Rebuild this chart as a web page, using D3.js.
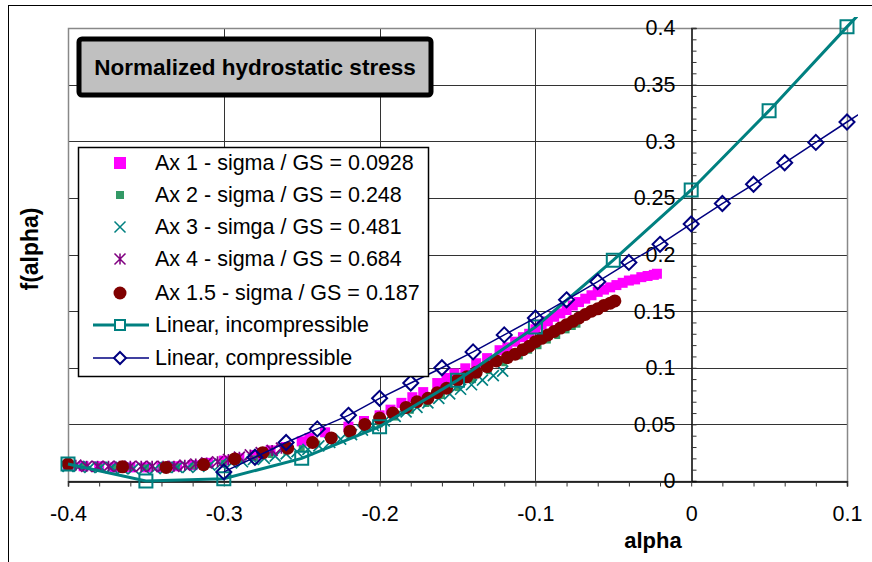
<!DOCTYPE html>
<html>
<head>
<meta charset="utf-8">
<script src="https://cdn.jsdelivr.net/npm/d3@7"></script>
<style>
  body { margin: 0; background: #fff; }
  text { font-family: "Liberation Sans", Arial, sans-serif; }
</style>
</head>
<body>
<div id="chart-area"></div>
<script>
// Ax 1 - sigma / GS = 0.0928 (magenta squares)
var ax1Alpha = [-0.4, -0.39, -0.38, -0.37, -0.36, -0.35, -0.34, -0.33, -0.32, -0.31, -0.3, -0.29, -0.28, -0.27, -0.26, -0.25, -0.245, -0.235, -0.22, -0.21, -0.2, -0.193, -0.186, -0.179, -0.172, -0.163, -0.157, -0.152, -0.145, -0.138, -0.131, -0.123, -0.118, -0.113, -0.108, -0.104, -0.1, -0.096, -0.092, -0.088, -0.084, -0.08, -0.076, -0.072, -0.068, -0.064, -0.06, -0.056, -0.052, -0.048, -0.044, -0.04, -0.036, -0.032, -0.028, -0.024, -0.022];
var ax1F = [0.014, 0.013, 0.013, 0.012, 0.012, 0.012, 0.012, 0.013, 0.014, 0.016, 0.018, 0.02, 0.023, 0.027, 0.03, 0.035, 0.038, 0.043, 0.048, 0.053, 0.058, 0.063, 0.069, 0.074, 0.0785, 0.0865, 0.091, 0.095, 0.0995, 0.104, 0.1085, 0.1155, 0.118, 0.123, 0.127, 0.13, 0.134, 0.138, 0.141, 0.145, 0.148, 0.151, 0.155, 0.158, 0.161, 0.164, 0.167, 0.169, 0.171, 0.173, 0.175, 0.177, 0.178, 0.18, 0.181, 0.182, 0.183];

// Ax 2 - sigma / GS = 0.248 (small green squares)
var ax2Alpha = [-0.4, -0.39, -0.38, -0.37, -0.36, -0.35, -0.34, -0.33, -0.32, -0.31, -0.3, -0.29, -0.28, -0.27, -0.26, -0.25, -0.24, -0.23, -0.22, -0.21, -0.2, -0.19, -0.18, -0.17, -0.16, -0.15, -0.14, -0.13, -0.12, -0.11, -0.104, -0.098, -0.092, -0.086, -0.08, -0.076, -0.073];
var ax2F = [0.014, 0.013, 0.013, 0.012, 0.012, 0.012, 0.012, 0.013, 0.013, 0.014, 0.016, 0.018, 0.02, 0.023, 0.026, 0.029, 0.033, 0.037, 0.041, 0.046, 0.05, 0.056, 0.062, 0.068, 0.075, 0.082, 0.089, 0.097, 0.104, 0.11, 0.115, 0.119, 0.124, 0.128, 0.133, 0.136, 0.138];

// Ax 3 - simga / GS = 0.481 (teal crosses)
var ax3Alpha = [-0.4, -0.393, -0.386, -0.379, -0.372, -0.365, -0.358, -0.351, -0.344, -0.337, -0.33, -0.323, -0.316, -0.309, -0.302, -0.295, -0.288, -0.281, -0.274, -0.267, -0.26, -0.253, -0.246, -0.239, -0.232, -0.225, -0.218, -0.211, -0.204, -0.197, -0.19, -0.183, -0.176, -0.169, -0.162, -0.155, -0.148, -0.141, -0.134, -0.127, -0.121];
var ax3F = [0.013, 0.013, 0.012, 0.012, 0.012, 0.011, 0.011, 0.011, 0.011, 0.012, 0.012, 0.012, 0.013, 0.014, 0.015, 0.016, 0.017, 0.019, 0.02, 0.022, 0.024, 0.026, 0.028, 0.031, 0.034, 0.037, 0.041, 0.045, 0.049, 0.053, 0.057, 0.061, 0.065, 0.069, 0.073, 0.077, 0.081, 0.085, 0.089, 0.093, 0.097];

// Ax 4 - sigma / GS = 0.684 (purple stars)
var ax4Alpha = [-0.395, -0.388, -0.381, -0.374, -0.367, -0.36, -0.353, -0.346, -0.339, -0.332, -0.325, -0.318, -0.311, -0.304, -0.297, -0.29, -0.283, -0.276, -0.269, -0.263];
var ax4F = [0.014, 0.013, 0.013, 0.013, 0.013, 0.013, 0.013, 0.013, 0.013, 0.013, 0.014, 0.015, 0.016, 0.017, 0.019, 0.021, 0.023, 0.025, 0.027, 0.029];

// Ax 1.5 - sigma / GS = 0.187 (dark red dots)
var ax15Alpha = [-0.4, -0.365, -0.337, -0.313, -0.293, -0.275, -0.259, -0.243, -0.231, -0.219, -0.2095, -0.2, -0.1915, -0.183, -0.176, -0.169, -0.163, -0.157, -0.15, -0.144, -0.138, -0.131, -0.125, -0.118, -0.113, -0.108, -0.104, -0.1, -0.096, -0.092, -0.088, -0.084, -0.08, -0.076, -0.072, -0.068, -0.064, -0.06, -0.056, -0.052, -0.049];
var ax15F = [0.015, 0.0125, 0.012, 0.0145, 0.0195, 0.025, 0.029, 0.034, 0.038, 0.044, 0.05, 0.0556, 0.06, 0.065, 0.07, 0.073, 0.078, 0.082, 0.089, 0.092, 0.096, 0.101, 0.106, 0.109, 0.112, 0.116, 0.119, 0.123, 0.126, 0.129, 0.132, 0.135, 0.138, 0.141, 0.144, 0.147, 0.15, 0.152, 0.155, 0.157, 0.159];

// Linear, incompressible
var incAlpha = [-0.4, -0.35, -0.3, -0.25, -0.2, -0.15, -0.1, -0.05, 0, 0.05, 0.1, 0.15];
var incF = [0.015, 0.0, 0.002, 0.02, 0.048, 0.089, 0.136, 0.195, 0.257, 0.327, 0.401, 0.474];

// Linear, compressible
var compAlpha = [-0.3, -0.28, -0.26, -0.24, -0.22, -0.2, -0.18, -0.16, -0.14, -0.12, -0.1, -0.08, -0.06, -0.04, -0.02, 0, 0.02, 0.04, 0.06, 0.08, 0.1, 0.12];
var compF = [0.008, 0.021, 0.034, 0.046, 0.058, 0.073, 0.0865, 0.1, 0.114, 0.129, 0.144, 0.16, 0.176, 0.193, 0.209, 0.227, 0.245, 0.262, 0.281, 0.299, 0.317, 0.335];

var xMajor = [-0.4, -0.3, -0.2, -0.1, 0, 0.1];
var yMajor = [0, 0.05, 0.1, 0.15, 0.2, 0.25, 0.3, 0.35, 0.4];
var xMinor = d3.range(-0.4, 0.1001, 0.02);
var yMinor = d3.range(0, 0.4001, 0.01);

var legendLabels = [
  "Ax 1 - sigma / GS = 0.0928",
  "Ax 2 - sigma / GS = 0.248",
  "Ax 3 - simga / GS = 0.481",
  "Ax 4 - sigma / GS = 0.684",
  "Ax 1.5 - sigma / GS = 0.187",
  "Linear, incompressible",
  "Linear, compressible"
];

var W = 872, H = 562;
var plotLeft = 68, plotRight = 847, plotTop = 28, plotBottom = 481;

var svg = d3.select("#chart-area")
  .append("svg")
  .attr("width", W)
  .attr("height", H);

// outer chart border
svg.append("rect")
  .attr("x", 8.5).attr("y", 5.5)
  .attr("width", W).attr("height", H)
  .attr("fill", "#fff")
  .attr("stroke", "#000");

var x = d3.scaleLinear().domain([-0.4, 0.1]).range([plotLeft, plotRight]);
var y = d3.scaleLinear().domain([0, 0.4]).range([plotBottom, plotTop]);

// gridlines
svg.append("g").selectAll("line")
  .data(yMajor.filter(d => d > 0 && d < 0.4))
  .enter().append("line")
  .attr("x1", plotLeft).attr("x2", plotRight)
  .attr("y1", d => Math.round(y(d)) + 0.5).attr("y2", d => Math.round(y(d)) + 0.5)
  .attr("stroke", "#333");
svg.append("g").selectAll("line")
  .data(xMajor.filter(d => d > -0.4 && d < 0.1 && d !== 0))
  .enter().append("line")
  .attr("y1", plotTop).attr("y2", plotBottom)
  .attr("x1", d => Math.round(x(d)) + 0.5).attr("x2", d => Math.round(x(d)) + 0.5)
  .attr("stroke", "#333");

// plot border
svg.append("rect")
  .attr("x", plotLeft + 0.5).attr("y", plotTop + 0.5)
  .attr("width", plotRight - plotLeft).attr("height", plotBottom - plotTop)
  .attr("fill", "none")
  .attr("stroke", "#888")
  .attr("stroke-width", 1.5);

var fmt = d => (+d.toFixed(2)) + "";

// axes through zero
var x0 = Math.round(x(0)) + 0.5;
var y0 = Math.round(y(0)) + 0.5;

var yMinorAxis = svg.append("g")
  .attr("transform", "translate(" + x0 + ",0)")
  .call(d3.axisRight(y).tickValues(yMinor).tickSize(5).tickFormat(""));
yMinorAxis.select(".domain").attr("stroke", "#000").attr("stroke-width", 1.5);
yMinorAxis.selectAll(".tick line").attr("stroke", "#333");

var yLabelAxis = svg.append("g")
  .attr("transform", "translate(" + x0 + ",0)")
  .call(d3.axisLeft(y).tickValues(yMajor).tickSize(0).tickPadding(16).tickFormat(fmt));
yLabelAxis.select(".domain").remove();
yLabelAxis.selectAll("text")
  .attr("font-size", 21.5)
  .attr("font-family", "Liberation Sans, Arial, sans-serif")
  .attr("fill", "#000");

var xMinorAxis = svg.append("g")
  .attr("transform", "translate(0," + y0 + ")")
  .call(d3.axisBottom(x).tickValues(xMinor).tickSize(5).tickFormat(""));
xMinorAxis.select(".domain").attr("stroke", "#000").attr("stroke-width", 1.5);
xMinorAxis.selectAll(".tick line").attr("stroke", "#333");

var xLabelAxis = svg.append("g")
  .attr("transform", "translate(0," + y0 + ")")
  .call(d3.axisBottom(x).tickValues(xMajor).tickSize(0).tickPadding(24).tickFormat(fmt));
xLabelAxis.select(".domain").remove();
xLabelAxis.selectAll("text")
  .attr("font-size", 21.5)
  .attr("font-family", "Liberation Sans, Arial, sans-serif")
  .attr("fill", "#000");

// axis titles
svg.append("text")
  .attr("x", 653).attr("y", 548)
  .attr("text-anchor", "middle")
  .attr("font-weight", "bold")
  .attr("font-size", 22)
  .text("alpha");

svg.append("text")
  .attr("transform", "translate(30,249) rotate(-90)")
  .attr("text-anchor", "middle")
  .attr("dominant-baseline", "central")
  .attr("font-weight", "bold")
  .attr("font-size", 23)
  .text("f(alpha)");

// marker shapes
var shapes = {
  square: s => "M" + (-s) + "," + (-s) + "h" + 2 * s + "v" + 2 * s + "h" + (-2 * s) + "Z",
  cross: s => "M" + (-s) + "," + (-s) + "L" + s + "," + s + "M" + (-s) + "," + s + "L" + s + "," + (-s),
  star: s => "M" + (-s) + "," + (-s) + "L" + s + "," + s + "M" + (-s) + "," + s + "L" + s + "," + (-s) + "M0," + (-s) + "V" + s,
  diamond: s => "M0," + (-s) + "L" + s + ",0L0," + s + "L" + (-s) + ",0Z"
};

var series = [
  { alpha: ax1Alpha, f: ax1F, shape: "square", size: 5, fill: "#ff00ff", stroke: "none", sw: 0 },
  { alpha: ax2Alpha, f: ax2F, shape: "square", size: 3, fill: "#339966", stroke: "none", sw: 0 },
  { alpha: ax3Alpha, f: ax3F, shape: "cross", size: 5.5, fill: "none", stroke: "#008080", sw: 1.7 },
  { alpha: ax4Alpha, f: ax4F, shape: "star", size: 5.5, fill: "none", stroke: "#800080", sw: 1.7 },
  { alpha: ax15Alpha, f: ax15F, shape: "circle", size: 6.5, fill: "#800000", stroke: "none", sw: 0 }
];

series.forEach(function(s) {
  var pts = s.alpha.map((a, i) => ({ a: a, f: s.f[i] }));
  var g = svg.append("g");
  if (s.shape === "circle") {
    g.selectAll("circle").data(pts).enter().append("circle")
      .attr("cx", d => x(d.a)).attr("cy", d => y(d.f))
      .attr("r", s.size).attr("fill", s.fill);
  } else {
    g.selectAll("path").data(pts).enter().append("path")
      .attr("transform", d => "translate(" + x(d.a) + "," + y(d.f) + ")")
      .attr("d", shapes[s.shape](s.size))
      .attr("fill", s.fill).attr("stroke", s.stroke).attr("stroke-width", s.sw);
  }
});

// lines, clipped a little beyond the plot area
svg.append("clipPath").attr("id", "lineclip")
  .append("rect")
  .attr("x", 0).attr("y", 17).attr("width", 858).attr("height", H);

var lineGen = d3.line().x(d => x(d.a)).y(d => y(d.f));

var lines = [
  { alpha: incAlpha, f: incF, color: "#008080", lw: 3, shape: "square", size: 6.5, sw: 2 },
  { alpha: compAlpha, f: compF, color: "#000080", lw: 1.5, shape: "diamond", size: 7.5, sw: 2 }
];

lines.forEach(function(l) {
  var pts = l.alpha.map((a, i) => ({ a: a, f: l.f[i] }));
  svg.append("path")
    .datum(pts)
    .attr("clip-path", "url(#lineclip)")
    .attr("d", lineGen)
    .attr("fill", "none")
    .attr("stroke", l.color)
    .attr("stroke-width", l.lw);
  svg.append("g").selectAll("path")
    .data(pts.filter(d => d.a <= 0.1001))
    .enter().append("path")
    .attr("transform", d => "translate(" + x(d.a) + "," + y(d.f) + ")")
    .attr("d", shapes[l.shape](l.size))
    .attr("fill", "none")
    .attr("stroke", l.color)
    .attr("stroke-width", l.sw);
});

// title box
svg.append("rect")
  .attr("x", 79).attr("y", 39)
  .attr("width", 352).attr("height", 56)
  .attr("rx", 3)
  .attr("fill", "#c0c0c0")
  .attr("stroke", "#000")
  .attr("stroke-width", 5);
svg.append("text")
  .attr("x", 255).attr("y", 75)
  .attr("text-anchor", "middle")
  .attr("font-weight", "bold")
  .attr("font-size", 22.5)
  .text("Normalized hydrostatic stress");

// legend
var legend = svg.append("g");
legend.append("rect")
  .attr("x", 78.5).attr("y", 147.5)
  .attr("width", 350).attr("height", 229)
  .attr("fill", "#fff")
  .attr("stroke", "#000")
  .attr("stroke-width", 1.5);

var legendY = [163, 195, 227, 259, 293, 325, 358];
var legendItems = legendLabels.map((t, i) => ({ label: t, y: legendY[i], i: i }));

var li = legend.selectAll("g.item").data(legendItems).enter().append("g")
  .attr("class", "item")
  .attr("transform", d => "translate(0," + d.y + ")");

li.append("text")
  .attr("x", 155).attr("y", 0)
  .attr("dominant-baseline", "central")
  .attr("font-size", 21.5)
  .text(d => d.label);

li.each(function(d) {
  var g = d3.select(this);
  if (d.i < 5) {
    var s = series[d.i];
    if (s.shape === "circle") {
      g.append("circle").attr("cx", 120).attr("cy", 0).attr("r", s.size).attr("fill", s.fill);
    } else {
      g.append("path")
        .attr("transform", "translate(120,0)")
        .attr("d", shapes[s.shape](s.shape === "square" ? s.size + 1 : s.size))
        .attr("fill", s.fill).attr("stroke", s.stroke).attr("stroke-width", s.shape === "square" ? 0 : 1.5);
    }
  } else {
    var l = lines[d.i - 5];
    g.append("line").attr("x1", 93).attr("x2", 149).attr("y1", 0).attr("y2", 0)
      .attr("stroke", l.color).attr("stroke-width", l.lw);
    g.append("path")
      .attr("transform", "translate(120,0)")
      .attr("d", shapes[l.shape](l.size - 1.5))
      .attr("fill", "#fff")
      .attr("stroke", l.color)
      .attr("stroke-width", l.sw);
  }
});
</script>
</body>
</html>
